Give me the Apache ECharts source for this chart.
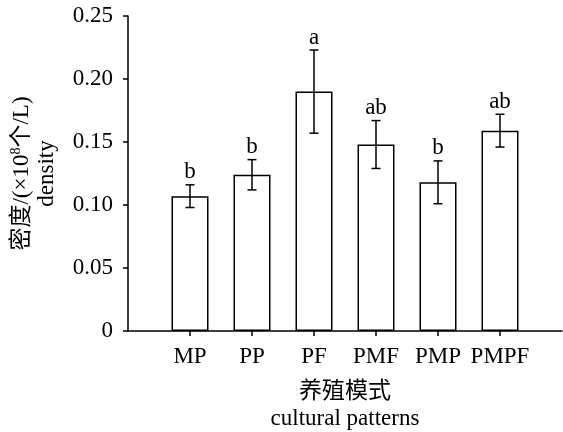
<!DOCTYPE html>
<html>
<head>
<meta charset="utf-8">
<script src="https://cdn.jsdelivr.net/npm/echarts@6/dist/echarts.min.js"></script>
<style>html,body{margin:0;padding:0;background:#fff;}#c{width:563px;height:432px;}</style>
</head>
<body>
<div id="c"></div>
<script>
var categories = ['MP', 'PP', 'PF', 'PMF', 'PMP', 'PMPF'];
var means = [0.107, 0.124, 0.190, 0.148, 0.118, 0.159];
var errors = [0.009, 0.012, 0.033, 0.019, 0.017, 0.013];
var letters = ['b', 'b', 'a', 'ab', 'b', 'ab'];
var yTicks = [0, 0.05, 0.10, 0.15, 0.20, 0.25];

var FONT = '"Liberation Serif", "Times New Roman", "Noto Sans CJK SC", serif';
var FS = 23;
var axisCats = [''].concat(categories).concat(['']);
var barData = [null].concat(means).concat([null]);
var errData = categories.map(function (c, i) { return [i + 1, means[i], errors[i]]; });

var chart = echarts.init(document.getElementById('c'), null, {renderer: 'canvas'});
chart.setOption({
  animation: false,
  backgroundColor: '#fff',
  grid: {left: 128, top: 16, right: 1, bottom: 101, containLabel: false, outerBoundsMode: 'none'},
  xAxis: {
    type: 'category',
    data: axisCats,
    boundaryGap: false,
    name: '养殖模式\ncultural patterns',
    nameLocation: 'middle',
    nameGap: 47,
    nameTextStyle: {fontFamily: FONT, fontSize: FS, color: '#000', lineHeight: 27},
    axisLine: {lineStyle: {color: '#000', width: 1.5}},
    axisTick: {show: true, length: 5, lineStyle: {color: '#000', width: 1.5},
      interval: function (idx) { return idx > 0 && idx < axisCats.length - 1; }},
    axisLabel: {interval: 0, fontFamily: FONT, fontSize: FS, color: '#000', margin: 14},
    splitLine: {show: false}
  },
  yAxis: {
    type: 'value',
    min: 0, max: 0.25, interval: 0.05,
    name: '{a|密度/(×10}{s|8}{a|个/L)}\n{a|density}',
    nameLocation: 'middle',
    nameGap: 69,
    nameRotate: 90,
    nameTextStyle: {fontFamily: FONT, fontSize: FS, color: '#000', lineHeight: 25,
      rich: {
        a: {fontFamily: FONT, fontSize: FS, color: '#000', lineHeight: 25},
        s: {fontFamily: FONT, fontSize: 14, color: '#000', lineHeight: 25, verticalAlign: 'top', padding: [0, 0, 10, 0]}
      }},
    axisLine: {show: true, lineStyle: {color: '#000', width: 1.5}},
    axisTick: {show: true, length: 5, lineStyle: {color: '#000', width: 1.5}},
    axisLabel: {fontFamily: FONT, fontSize: FS, color: '#000', margin: 15,
      formatter: function (v) {
        for (var i = 0; i < yTicks.length; i++) {
          if (Math.abs(v - yTicks[i]) < 1e-9) return i === 0 ? '0' : yTicks[i].toFixed(2);
        }
        return '';
      }},
    splitLine: {show: false}
  },
  series: [
    {
      type: 'bar',
      data: barData,
      barWidth: 37,
      itemStyle: {color: '#fff', borderColor: '#000', borderWidth: 1.5},
      z: 2
    },
    {
      type: 'custom',
      data: errData,
      z: 3,
      renderItem: function (params, api) {
        var x = api.value(0), m = api.value(1), e = api.value(2);
        var top = api.coord([x, m + e]);
        var bot = api.coord([x, m - e]);
        var hw = 4.5;
        var st = {stroke: '#000', lineWidth: 1.5};
        return {
          type: 'group',
          children: [
            {type: 'line', shape: {x1: top[0], y1: top[1], x2: bot[0], y2: bot[1]}, style: st},
            {type: 'line', shape: {x1: top[0] - hw, y1: top[1], x2: top[0] + hw, y2: top[1]}, style: st},
            {type: 'line', shape: {x1: bot[0] - hw, y1: bot[1], x2: bot[0] + hw, y2: bot[1]}, style: st},
            {type: 'text', style: {text: letters[x - 1], x: top[0], y: top[1] - 1,
              textAlign: 'center', textVerticalAlign: 'bottom',
              font: FS + 'px ' + FONT, fill: '#000'}}
          ]
        };
      }
    }
  ]
});
</script>
</body>
</html>
